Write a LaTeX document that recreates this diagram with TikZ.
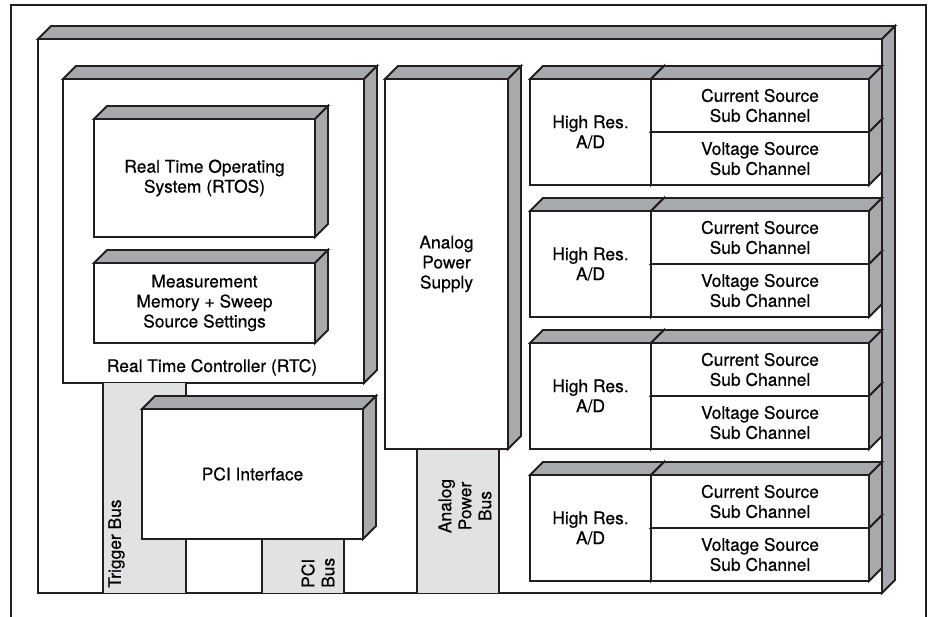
\documentclass[tikz,border=0pt]{standalone}
\usepackage{fontspec}
\setsansfont{TeX Gyre Heros}[FakeBold=0.5]
\usepackage{tikz}
\usetikzlibrary{calc}

\definecolor{ink}{HTML}{231F20}
\definecolor{sidegray}{HTML}{A7A9AC}
\definecolor{busgray}{HTML}{E1E2E3}

% top and right faces of a block, drawn after its front node
\newcommand{\slab}[1]{%
  \draw[face] (#1.north west) -- ++(13,-13) -- ($(#1.north east)+(13,-13)$) -- (#1.north east) -- cycle;
  \draw[face] (#1.north east) -- ++(13,-13) -- ($(#1.south east)+(13,-13)$) -- (#1.south east) -- cycle;}

\begin{document}
\begin{tikzpicture}[x=1pt, y=-1pt,
  font=\sffamily\fontsize{17.4}{20}\selectfont,
  front/.style={draw=ink, line width=1.9pt, fill=white, inner sep=0pt, outer sep=0pt, align=center},
  face/.style={draw=ink, line width=1.9pt, fill=sidegray},
  busedge/.style={draw=ink, line width=1.2pt},
  buslbl/.style={rotate=90, inner sep=0pt, anchor=west}]
  \useasboundingbox (0,0) rectangle (929,617);
  % outer frame, open at the bottom
  \draw[ink, line width=2pt] (11,617) -- (11,5) -- (926,5) -- (926,617);
  % main board
  \node[front, minimum width=844pt, minimum height=554pt] (board) at (460,316) {};
  \slab{board}
  % real time controller with its two inner blocks
  \node[front, minimum width=301pt, minimum height=304pt] (rtc) at (213.5,231) {};
  \slab{rtc}
  \node[anchor=base, inner sep=0pt] (rtclbl) at (212,372) {Real Time Controller (RTC)};
  \node[front, minimum width=221pt, minimum height=118pt] (rtos) at (204.5,178)
    {Real Time Operating\\System (RTOS)};
  \slab{rtos}
  \node[front, minimum width=221pt, minimum height=80pt] (mem) at (204.5,303)
    {Measurement\\Memory + Sweep\\Source Settings};
  \slab{mem}
  % buses
  \fill[busgray] (103,383) rectangle (186,593);
  \draw[busedge] (103,383) -- (103,593) (186,383) -- (186,593);
  \node[buslbl] (trigbus) at (116.5,588) {Trigger Bus};
  \fill[busgray] (262,539) rectangle (344,593);
  \draw[busedge] (262,539) -- (262,593) (344,539) -- (344,593);
  \node[buslbl, align=left] (pcibus) at (318,588) {PCI\\Bus};
  \fill[busgray] (417,449) rectangle (499,593);
  \draw[busedge] (417,449) -- (417,593) (499,449) -- (499,593);
  \node[rotate=90, inner sep=0pt, align=center] (apbus) at (465,506) {Analog\\Power\\Bus};
  % PCI interface
  \node[front, minimum width=221pt, minimum height=130pt] (pci) at (252.5,474) {PCI Interface};
  \slab{pci}
  % analog power supply
  \node[front, minimum width=123pt, minimum height=370pt] (aps) at (446.5,264)
    {Analog\\Power\\Supply};
  \slab{aps}
  % four measurement channels
  \foreach \i/\t in {1/79,2/211,3/343,4/475}{
    \node[front, minimum width=121pt, minimum height=106pt] (ad\i) at (590.5,\t+53) {High Res.\\A/D};
    \slab{ad\i}
    \node[front, minimum width=218pt, minimum height=53pt] (vol\i) at (760,\t+79.5)
      {Voltage Source\\Sub Channel};
    \slab{vol\i}
    \node[front, minimum width=218pt, minimum height=53pt] (cur\i) at (760,\t+26.5)
      {Current Source\\Sub Channel};
    \slab{cur\i}
  }
\end{tikzpicture}
\end{document}
